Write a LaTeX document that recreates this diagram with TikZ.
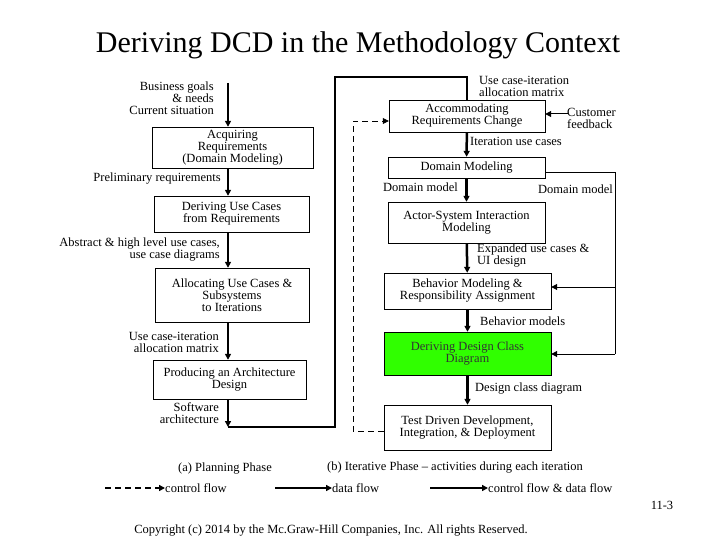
\documentclass[tikz,border=0pt]{standalone}
\usepackage{fontspec}
\setmainfont{Liberation Serif}
\usetikzlibrary{arrows.meta}
\begin{document}
\begin{tikzpicture}[x=1pt,y=-1pt,>={Triangle[length=6pt,width=6pt]},font=\fontsize{12.5}{12}\selectfont]
        \tikzstyle{activity}=[draw,align=center,inner sep=0pt]
        \tikzstyle{annot}=[inner sep=0pt,align=left]
        \tikzstyle{rannot}=[inner sep=0pt,align=right,anchor=east]
        \tikzstyle{flow}=[->,line width=2.5pt]
        \tikzstyle{data}=[->,line width=1pt]
        \tikzstyle{ctrl}=[->,line width=1pt,dash pattern=on 6pt off 4pt]
        \useasboundingbox (0,0) rectangle (720,540);

        \node[font=\fontsize{30}{32}\selectfont] (title) at (358,45) {Deriving DCD in the Methodology Context};

        % Planning phase activities
        \node[activity,minimum width=161,minimum height=41] (A1) at (232.5,147.5) {Acquiring\\Requirements\\(Domain Modeling)};
        \node[activity,minimum width=155,minimum height=36] (A2) at (231.5,214) {Deriving Use Cases\\from Requirements};
        \node[activity,minimum width=154,minimum height=54] (A3) at (232,295) {Allocating Use Cases \&\\Subsystems\\to Iterations};
        \node[activity,minimum width=153,minimum height=39] (A4) at (229.5,379.5) {Producing an Architecture\\Design};
        \coordinate (start) at (228,83);
        \coordinate (sw) at (228,427);
        \coordinate (c1) at (335,427);
        \coordinate (c2) at (335,77);
        \coordinate (c3) at (467,77);

        % Iterative phase activities
        \node[activity,minimum width=156,minimum height=32] (B1) at (467,116) {Accommodating\\Requirements Change};
        \node[activity,minimum width=157,minimum height=21] (B2) at (466.5,167.5) {Domain Modeling};
        \node[activity,minimum width=157,minimum height=41] (B3) at (466.5,222.5) {Actor-System Interaction\\Modeling};
        \node[activity,minimum width=167,minimum height=36] (B4) at (467.5,291) {Behavior Modeling \&\\Responsibility Assignment};
        \node[activity,minimum width=167,minimum height=43,fill=green!75!lime,text=black!80] (B5) at (467.5,353.5) {Deriving Design Class\\Diagram};
        \node[activity,minimum width=167,minimum height=45] (B6) at (467.5,427.5) {Test Driven Development,\\Integration, \& Deployment};
        \coordinate (cf) at (568,114);
        \coordinate (dm1) at (615,172);
        \coordinate (dm2) at (615,287);
        \coordinate (dm3) at (615,354);
        \coordinate (d1) at (353,431);
        \coordinate (d2) at (353,121);

        % Planning phase flows
        \draw[flow] (start) -- (start|-A1.north);
        \draw[flow] (A1.south-|start) -- (start|-A2.north);
        \draw[flow] (A2.south-|start) -- (start|-A3.north);
        \draw[flow] (A3.south-|start) -- (start|-A4.north);
        \draw[flow] (A4.south-|sw) -- (sw);
        \draw[line width=2.5pt] (sw) -- (c1) -- (c2) -- (c3) -- (B1.north);

        % Iterative phase flows
        \draw[flow] (B1) -- (B2);
        \draw[flow] (B2) -- (B3);
        \draw[flow] (B3) -- (B4);
        \draw[flow] (B4) -- (B5);
        \draw[flow] (B5) -- (B6);
        \draw[data] (cf) -- (B1.east|-cf);
        \draw[line width=0.8pt] (B2.east|-dm1) -- (dm1) -- (dm3);
        \draw[data] (dm2) -- (B4.east|-dm2);
        \draw[data] (dm3) -- (B5.east|-dm3);
        \draw[ctrl,line width=0.8pt] (B6.west|-d1) -- (d1) -- (d2) -- (B1.west|-d2);

        % Planning phase labels
        \node[rannot] (l1) at (214,98) {Business goals\\\& needs\\Current situation};
        \node[rannot] (l2) at (221,179) {Preliminary requirements};
        \node[rannot] (l3) at (220,250) {Abstract \& high level use cases,\\use case diagrams};
        \node[rannot] (l4) at (219,342) {Use case-iteration\\allocation matrix};
        \node[rannot] (l5) at (219,413) {Software\\architecture};

        % Iterative phase labels
        \node[annot,anchor=west] (m1) at (479,86) {Use case-iteration\\allocation matrix};
        \node[annot,anchor=west] (m2) at (567,118) {Customer\\feedback};
        \node[annot,anchor=west] (m3) at (470,141) {Iteration use cases};
        \node[annot,anchor=east] (m4) at (458,187) {Domain model};
        \node[annot,anchor=west] (m5) at (538,189) {Domain model};
        \node[annot,anchor=west] (m6) at (477,256) {Expanded use cases \&\\UI design};
        \node[annot,anchor=west] (m7) at (480,321) {Behavior models};
        \node[annot,anchor=west] (m8) at (475,389) {Design class diagram};

        % Legend
        \node[annot] (pa) at (225,469) {(a) Planning Phase};
        \node[annot] (pb) at (455,468) {(b) Iterative Phase -- activities during each iteration};
        \coordinate (k1) at (105,488);
        \coordinate (k2) at (165,488);
        \coordinate (k3) at (275,488);
        \coordinate (k4) at (332,488);
        \coordinate (k5) at (430,488);
        \coordinate (k6) at (488,488);
        \draw[ctrl,line width=1.5pt] (k1) -- (k2);
        \node[annot,anchor=west] (kc) at (k2) {control flow};
        \draw[data,line width=1.5pt] (k3) -- (k4);
        \node[annot,anchor=west] (kd) at (k4) {data flow};
        \draw[flow,line width=1.5pt] (k5) -- (k6);
        \node[annot,anchor=west] (kf) at (k6) {control flow \& data flow};
        \node[annot] (pg) at (662,505) {11-3};
        \node[annot] (cp) at (331,531) {Copyright (c) 2014 by the Mc.Graw-Hill Companies, Inc. All rights Reserved.};
\end{tikzpicture}
\end{document}
